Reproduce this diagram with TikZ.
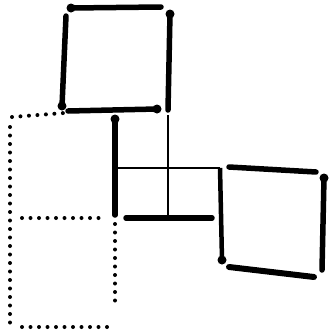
\documentclass[tikz,border=0pt]{standalone}
\usetikzlibrary{calc}
\begin{document}
\begin{tikzpicture}[x=1pt,y=-1pt,
  heavy/.style={line width=5.5pt, line cap=round},
  fine/.style={line width=2.6pt},
  dotted line/.style={line width=4pt, line cap=round, dash pattern=on 0pt off 8.5pt},
  blob/.style={circle, fill=black, inner sep=0pt, minimum size=9pt}
]
  \useasboundingbox (0,0) rectangle (331,335);
  % upper square
  \coordinate (uA) at (71,8);   \coordinate (uB) at (161,7);
  \coordinate (uC) at (170,14); \coordinate (uD) at (168,110);
  \coordinate (uE) at (66,16);  \coordinate (uF) at (62,106);
  \coordinate (uG) at (68,111); \coordinate (uH) at (157,109);
  \draw[heavy] (uA) -- (uB);
  \draw[heavy] (uC) -- (uD);
  \draw[heavy] (uE) -- (uF);
  \draw[heavy] (uG) -- (uH);
  \node[blob] at (uA) {}; \node[blob] at (uC) {};
  \node[blob] at (uF) {}; \node[blob] at (uH) {};
  % middle cross
  \coordinate (mA) at (115,119); \coordinate (mB) at (115,215);
  \coordinate (mC) at (116,168); \coordinate (mD) at (220,168);
  \coordinate (mE) at (168,115); \coordinate (mF) at (168,217);
  \coordinate (mG) at (126,218); \coordinate (mH) at (212,218);
  \draw[heavy] (mA) -- (mB);
  \draw[fine] (mC) -- (mD);
  \draw[fine] (mE) -- (mF);
  \draw[heavy] (mG) -- (mH);
  \node[blob] at (mA) {};
  % right square
  \coordinate (rA) at (222,260);
  \coordinate (rB) at (229,167); \coordinate (rC) at (316,172);
  \coordinate (rD) at (324,178); \coordinate (rE) at (322,270);
  \coordinate (rF) at (229,267); \coordinate (rG) at (314,277);
  \draw[line width=4.5pt] (mD) -- (rA);
  \draw[heavy] (rB) -- (rC);
  \draw[heavy] (rD) -- (rE);
  \draw[heavy,line width=6pt] (rF) -- (rG);
  \node[blob] at (rA) {}; \node[blob] at (rD) {};
  % dotted squares
  \coordinate (dA) at (12,117); \coordinate (dB) at (64,113);
  \coordinate (dC) at (10,127); \coordinate (dD) at (10,328);
  \coordinate (dE) at (22,218); \coordinate (dF) at (100,218);
  \coordinate (dG) at (115,224); \coordinate (dH) at (115,303);
  \coordinate (dI) at (22,327); \coordinate (dJ) at (108,327);
  \draw[dotted line] (dA) -- (dB);
  \draw[dotted line] (dC) -- (dD);
  \draw[dotted line] (dE) -- (dF);
  \draw[dotted line] (dG) -- (dH);
  \draw[dotted line] (dI) -- (dJ);
\end{tikzpicture}
\end{document}
